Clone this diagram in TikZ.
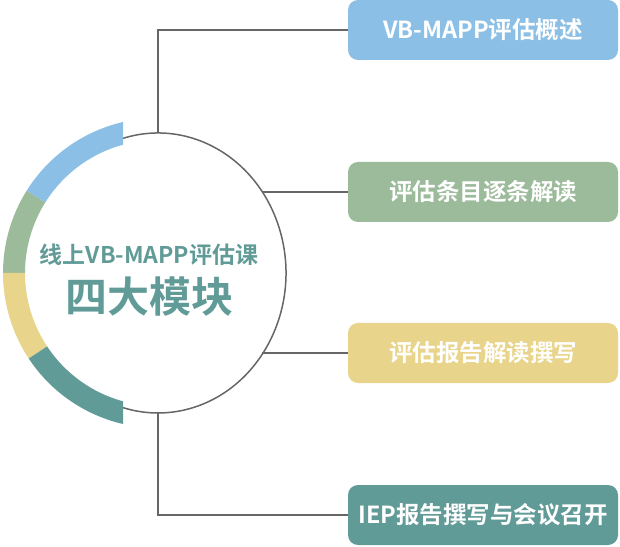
\documentclass[tikz,border=0pt]{standalone}
\usepackage{fontspec}
\setmainfont{Noto Sans CJK SC}[BoldFont={Noto Sans CJK SC Bold}]
\usepackage{xcolor}
\usepackage{tikz}
\usetikzlibrary{shapes.geometric}
\definecolor{bandblue}{HTML}{8BBFE5}
\definecolor{bandgreen}{HTML}{9BBB9A}
\definecolor{bandyellow}{HTML}{E8D48A}
\definecolor{bandteal}{HTML}{619B97}
\definecolor{linkc}{HTML}{666666}
\tikzset{
  link/.style={linkc,line width=1.5pt},
  ring/.style={ellipse,inner sep=0pt,minimum width=256pt,minimum height=280pt},
  topic/.style={rounded corners=10pt,minimum width=270pt,minimum height=60pt,text=white,inner sep=0pt,
    font=\bfseries\fontsize{23.5}{28}\selectfont}
}

\begin{document}
\begin{tikzpicture}[x=1pt,y=1pt]
\useasboundingbox (0,0) rectangle (620,546);
\coordinate (c) at (158,273);
\node[ring] (core) at (c) {};
% thin ring, open on the left
\draw[link] ([shift={(105.87:128 and 140)}]c) arc[start angle=105.87,end angle=-105.87,x radius=128,y radius=140];
% coloured band on the left
\fill[bandblue] ([shift={(103.05:155)}]c) arc[start angle=103.05,end angle=148,radius=155]
  -- ([shift={(148:133)}]c) arc[start angle=148,end angle=105.26,radius=133] -- cycle;
\fill[bandgreen] ([shift={(148:155)}]c) arc[start angle=148,end angle=180,radius=155]
  -- ([shift={(180:133)}]c) arc[start angle=180,end angle=148,radius=133] -- cycle;
\fill[bandyellow] ([shift={(180:155)}]c) arc[start angle=180,end angle=213.5,radius=155]
  -- ([shift={(213.5:133)}]c) arc[start angle=213.5,end angle=180,radius=133] -- cycle;
\fill[bandteal] ([shift={(213.5:155)}]c) arc[start angle=213.5,end angle=256.95,radius=155]
  -- ([shift={(254.74:133)}]c) arc[start angle=254.74,end angle=213.5,radius=133] -- cycle;
\node[text=bandteal,font=\bfseries\fontsize{23}{28}\selectfont] (t1) at (149,291) {线上VB-MAPP评估课};
\node[text=bandteal,font=\bfseries\fontsize{42}{48}\selectfont] (t2) at (149,249) {四大模块};
% the four modules
\node[topic,fill=bandblue] (m1) at (483,516) {VB-MAPP评估概述};
\node[topic,fill=bandgreen] (m2) at (483,354) {评估条目逐条解读};
\node[topic,fill=bandyellow] (m3) at (483,193) {评估报告解读撰写};
\node[topic,fill=bandteal] (m4) at (483,31) {IEP报告撰写与会议召开};
\draw[link] (core.north) |- (m1.west);
\draw[link] (m2.west) -- (m2.west -| core.38);
\draw[link] (m3.west) -- (m3.west -| core.-38);
\draw[link] (core.south) |- (m4.west);
\end{tikzpicture}
\end{document}
